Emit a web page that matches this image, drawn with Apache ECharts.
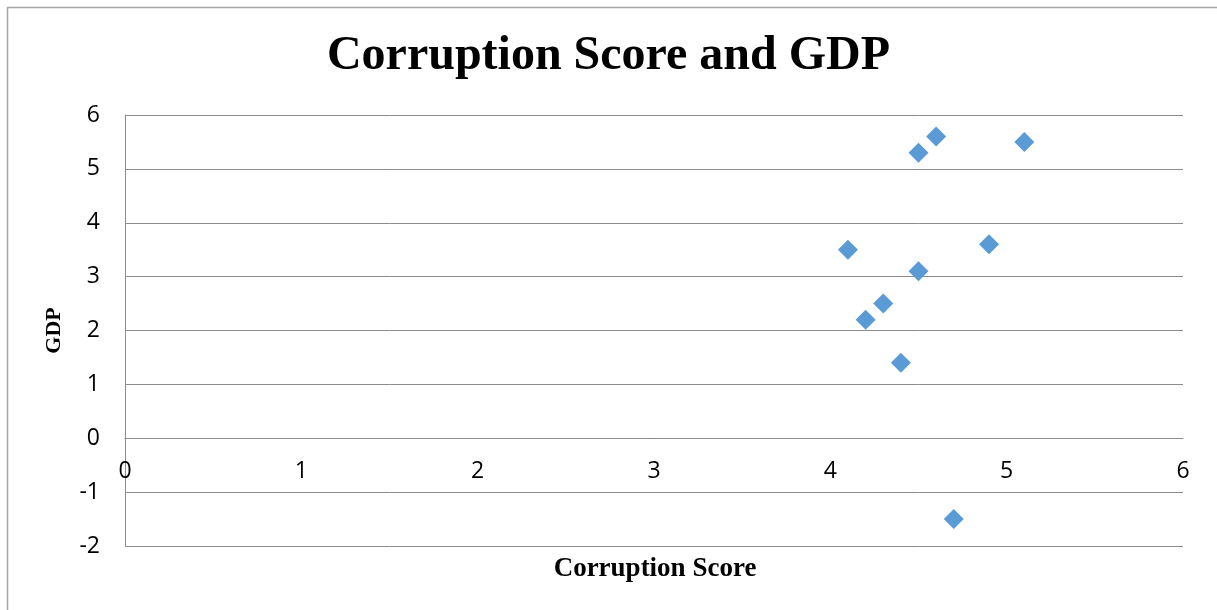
<!DOCTYPE html>
<html>
<head>
<meta charset="utf-8">
<script src="https://cdn.jsdelivr.net/npm/echarts@6/dist/echarts.min.js"></script>
<style>
    html, body { margin: 0; padding: 0; background: #fff; }
    #chart { width: 1217px; height: 610px; }
</style>
</head>
<body>
<div id="chart"></div>
<script>
    // corruption score (x) and GDP (y)
    const corruption = [4.1, 4.2, 4.3, 4.4, 4.5, 4.5, 4.6, 4.7, 4.9, 5.1];
    const gdp = [3.5, 2.2, 2.5, 1.4, 3.1, 5.3, 5.6, -1.5, 3.6, 5.5];

    const points = corruption.map((x, i) => [x, gdp[i]]);

    const chart = echarts.init(document.getElementById('chart'));
    const labelFont = '"Open Sans", Carlito, "Liberation Sans", sans-serif';
    const serif = '"Liberation Serif", "Times New Roman", serif';

    const gridTop = 115, gridBottom = 64;
    const yMin = -2, yMax = 6;
    // lift the x axis so it crosses at GDP = 0
    const plotH = 610 - gridTop - gridBottom;
    const xAxisOffset = -(0 - yMin) / (yMax - yMin) * plotH;

    chart.setOption({
        animation: false,
        title: {
            text: 'Corruption Score and GDP',
            left: 'center',
            top: 28,
            textStyle: { fontFamily: serif, fontWeight: 'bold', fontSize: 48, color: '#000' }
        },
        graphic: [{
            type: 'rect',
            shape: { x: 7.5, y: 7.5, width: 1230, height: 620 },
            style: { fill: 'none', stroke: '#a6a6a6', lineWidth: 1.5 },
            silent: true
        }, {
            type: 'text',
            x: 655,
            y: 569,
            style: {
                text: 'Corruption Score',
                textAlign: 'center', textVerticalAlign: 'middle',
                font: 'bold 27px ' + serif, fill: '#000'
            },
            silent: true
        }],
        grid: { left: 125, right: 34, top: gridTop, bottom: gridBottom },
        xAxis: {
            type: 'value',
            min: 0, max: 6, interval: 1,
            position: 'bottom',
            offset: xAxisOffset,
            axisLine: { onZero: false, lineStyle: { color: '#8c8c8c', width: 1 } },
            axisTick: { show: false },
            axisLabel: { fontFamily: labelFont, fontSize: 23, color: '#000', margin: 22 },
            splitLine: { show: false }
        },
        yAxis: {
            type: 'value',
            min: yMin, max: yMax, interval: 1,
            name: 'GDP',
            nameLocation: 'middle',
            nameGap: 60,
            nameRotate: 90,
            nameTextStyle: { fontFamily: serif, fontWeight: 'bold', fontSize: 22, color: '#000' },
            axisLine: { show: true, onZero: false, lineStyle: { color: '#8c8c8c', width: 1 } },
            axisTick: { show: false },
            axisLabel: { fontFamily: labelFont, fontSize: 23, color: '#000', margin: 25 },
            splitLine: { show: true, lineStyle: { color: '#8c8c8c', width: 1 } }
        },
        series: [{
            type: 'scatter',
            data: points,
            symbol: 'diamond',
            symbolSize: [20, 20],
            itemStyle: { color: '#5b9bd5', opacity: 1 }
        }]
    });
</script>
</body>
</html>
